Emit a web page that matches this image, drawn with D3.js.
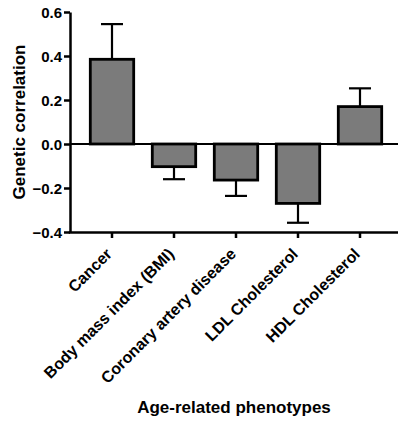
<!DOCTYPE html>
<html><head><meta charset="utf-8">
<script src="https://cdn.jsdelivr.net/npm/d3@7"></script>
<style>body{margin:0;background:#fff}svg{display:block}</style>
</head><body>
<svg id="c" width="398" height="421"></svg>
<script>
const categories = ["Cancer","Body mass index (BMI)","Coronary artery disease","LDL Cholesterol","HDL Cholesterol"];
const values = [0.385, -0.103, -0.164, -0.27, 0.17];
const errors = [0.16, 0.057, 0.072, 0.088, 0.083];
const yTicks = [-0.4,-0.2,0.0,0.2,0.4,0.6];

const svg = d3.select("#c");
const font = "'Liberation Sans', Arial, sans-serif";
const x = d3.scaleBand().domain(categories).range([81, 391]).paddingInner(0.3).paddingOuter(0.15);
const y = d3.scaleLinear().domain([-0.4, 0.6]).range([232, 12]);

// bars
svg.selectAll("rect.bar").data(categories).join("rect")
  .attr("x", d => x(d))
  .attr("width", x.bandwidth())
  .attr("y", (d,i) => y(Math.max(0, values[i])))
  .attr("height", (d,i) => Math.abs(y(values[i]) - y(0)))
  .attr("fill", "#7b7b7b").attr("stroke", "#000").attr("stroke-width", 2.8);

// error bars (one-sided)
const eb = svg.append("g").attr("stroke","#000").attr("stroke-width",2.2);
categories.forEach((d,i) => {
  const cx = x(d) + x.bandwidth()/2;
  const v = values[i], e = values[i] >= 0 ? values[i] + errors[i] : values[i] - errors[i];
  eb.append("line").attr("x1",cx).attr("x2",cx).attr("y1",y(v)).attr("y2",y(e));
  eb.append("line").attr("x1",cx-11).attr("x2",cx+11).attr("y1",y(e)).attr("y2",y(e));
});

// zero line
svg.append("line").attr("x1",70).attr("x2",398).attr("y1",y(0)).attr("y2",y(0))
  .attr("stroke","#000").attr("stroke-width",2.2);

// y axis
const ya = svg.append("g").attr("transform","translate(70,0)")
  .call(d3.axisLeft(y).tickValues(yTicks).tickFormat(d3.format(".1f")).tickSize(6).tickSizeOuter(0));
ya.select(".domain").attr("stroke-width",2.5);
ya.selectAll(".tick line").attr("stroke-width",2.5);
ya.selectAll(".tick text").attr("font-family",font).attr("font-weight","bold").attr("font-size",15).attr("fill","#000").attr("x",-8).attr("dy","0.36em");

// x axis
const xa = svg.append("g").attr("transform","translate(0,232)")
  .call(d3.axisBottom(x).tickSize(6).tickSizeOuter(0));
xa.select(".domain").attr("d","M68.75,0.5H398").attr("stroke-width",2.5);
xa.selectAll(".tick line").attr("stroke-width",2.5);
xa.selectAll(".tick text").attr("font-family",font).attr("font-weight","bold").attr("font-size",16).attr("fill","#000")
  .attr("text-anchor","end").attr("dy","0").attr("y",0)
  .attr("transform","translate(1,23) rotate(-45)");

// axis titles
svg.append("text").attr("x",234).attr("y",413).attr("text-anchor","middle")
  .attr("font-family",font).attr("font-weight","bold").attr("font-size",17).text("Age-related phenotypes");
svg.append("text").attr("transform","translate(25,122) rotate(-90)").attr("text-anchor","middle")
  .attr("font-family",font).attr("font-weight","bold").attr("font-size",17).text("Genetic correlation");
</script>
</body></html>
